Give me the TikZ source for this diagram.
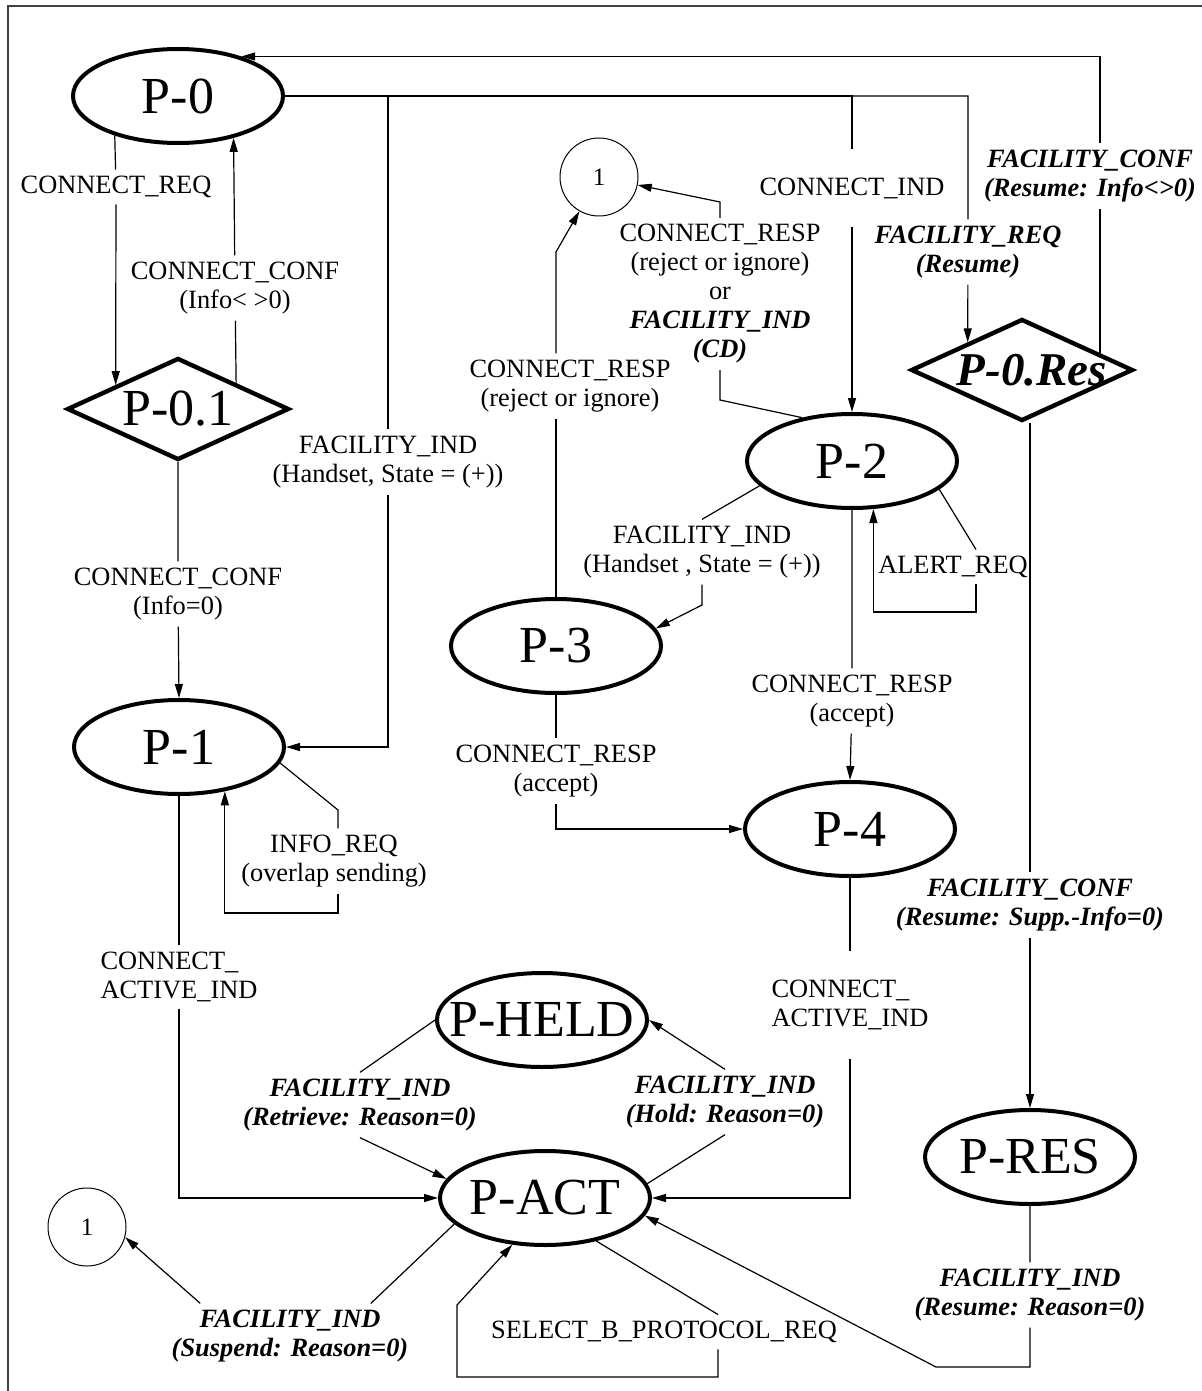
\documentclass[tikz,border=0pt]{standalone}
\usepackage{fontspec}
\setmainfont{Liberation Serif}
\usetikzlibrary{shapes.geometric,arrows.meta}
\tikzset{state/.style={draw,ellipse,line width=2pt,inner sep=0pt,minimum width=105pt,minimum height=47pt,font=\fontsize{26}{28}\selectfont}}
\tikzset{check/.style={draw,diamond,line width=2.2pt,inner sep=0pt,minimum width=111pt,minimum height=51pt,font=\fontsize{26}{28}\selectfont}}
\tikzset{jump/.style={draw,circle,line width=0.5pt,inner sep=0pt,minimum size=39pt,font=\fontsize{12.5}{14}\selectfont}}
\tikzset{msg/.style={align=center,inner sep=3pt,font=\fontsize{13.2}{14.5}\selectfont}}
\tikzset{fac/.style={msg,font=\fontsize{13.2}{14.5}\selectfont\bfseries\itshape}}
\newcommand{\sname}[1]{\makebox[0pt]{#1}}

\begin{document}
\begin{tikzpicture}[x=0.5pt,y=-0.5pt,line width=0.6pt,>={Triangle[length=7pt,width=4pt]}]
        \useasboundingbox (0,0) rectangle (1202,1391);
        \draw[line width=1pt,black!75] (8,1391) -- (8,6) -- (1202,6);
        \node[state] (p0) at (178,96) {\sname{P-0}};
        \node[check] (p01) at (178,409) {\sname{P-0.1}};
        \node[state] (p1) at (179,747) {\sname{P-1}};
        \node[state] (p2) at (852,461) {\sname{P-2}};
        \node[state] (p3) at (556,646) {\sname{P-3}};
        \node[state] (p4) at (850,829) {\sname{P-4}};
        \node[state] (pheld) at (542,1020) {\sname{P-HELD}};
        \node[state] (pact) at (545,1198) {\sname{P-ACT}};
        \node[state] (pres) at (1030,1157) {\sname{P-RES}};
        \node[check,font=\fontsize{23.5}{26}\selectfont\bfseries\itshape] (p0res) at (1022,370) {\sname{\hspace{10pt}P-0.Res}};
        \node[jump] (c1) at (599,177) {1};
        \node[jump] (c2) at (87,1227) {1};
        \node[msg] (req) at (116,187) {CONNECT\_REQ};
        \node[msg] (confne) at (235,288) {CONNECT\_CONF\\(Info< >0)};
        \node[msg] (confeq) at (178,594) {CONNECT\_CONF\\(Info=0)};
        \node[msg] (hset) at (388,462) {FACILITY\_IND\\(Handset, State = (+))};
        \node[msg,inner ysep=14pt] (ind) at (852,188) {CONNECT\_IND};
        \node[fac] (resreq) at (968,252) {FACILITY\_REQ\\(Resume)};
        \node[fac] (resconf) at (1090,176) {FACILITY\_CONF\\(Resume: Info<>0)};
        \node[msg] (rej) at (570,386) {CONNECT\_RESP\\(reject or ignore)};
        \node[msg] (rejcd) at (720,294) {CONNECT\_RESP\\(reject or ignore)\\or\\\textbf{\textit{FACILITY\_IND}}\\\textbf{\textit{(CD)}}};
        \node[msg] (hset2) at (702,552) {FACILITY\_IND\\(Handset , State = (+))};
        \node[msg] (alert) at (953,567) {ALERT\_REQ};
        \node[msg] (acc2) at (852,701) {CONNECT\_RESP\\(accept)};
        \node[msg] (acc3) at (556,771) {CONNECT\_RESP\\(accept)};
        \node[msg] (info) at (334,861) {INFO\_REQ\\(overlap sending)};
        \node[msg,align=left] (act1) at (179,977) {CONNECT\_\\ACTIVE\_IND};
        \node[msg,align=left,inner ysep=14pt] (act4) at (850,1005) {CONNECT\_\\ACTIVE\_IND};
        \node[fac] (resok) at (1030,905) {FACILITY\_CONF\\(Resume: Supp.-Info=0)};
        \node[fac] (retr) at (360,1105) {FACILITY\_IND\\(Retrieve: Reason=0)};
        \node[fac] (hold) at (725,1102) {FACILITY\_IND\\(Hold: Reason=0)};
        \node[fac] (susp) at (290,1336) {FACILITY\_IND\\(Suspend: Reason=0)};
        \node[msg] (bprot) at (664,1332) {SELECT\_B\_PROTOCOL\_REQ};
        \node[fac] (resind) at (1030,1295) {FACILITY\_IND\\(Resume: Reason=0)};
        \coordinate (rejup) at (556,252);
        \coordinate (cdlow) at (720,400);
        \coordinate (cdup) at (720,202);
        \coordinate (hsetdn) at (702,605);
        \coordinate (alertdn) at (976,612);
        \coordinate (infoup) at (338,810);
        \coordinate (infodn) at (338,913);
        \coordinate (selr) at (718,1377);
        \coordinate (sell) at (457,1305);
        \coordinate (resbend) at (936,1367);
            \path[draw,->] (p0.212.8) -- (req) -- (p01.159.1);
            \path[draw,->] (p01.24.5) -- (confne) -- (p0.323.9);
            \path[draw,->] (p01.south) -- (confeq) -- (p1.north);
            \path[draw,->] (p0.east) -| (hset) |- (p1.east);
            \path[draw,->] (p0.east) -| (ind) -- (p2.north);
            \path[draw,->] (p0.east) -| (resreq) -- (p0res.153.3);
            \path[draw] (p0res.12.4) -- (p0res.12.4 |- resconf.south);
            \path[draw,->] (p0res.12.4 |- resconf.north) |- (p0.32.2);
            \path[draw] (p2.195.8) -- (hset2.north);
            \path[draw,->] (hset2) -- (hsetdn) -- (p3.10);
            \path[draw] (p2.342.4) -- (alert.north -| alertdn);
            \path[draw,->] (alert.south -| alertdn) -- (alertdn) -| (p2.294.6);
            \path[draw,->] (p2.south) -- (acc2) -- (p4.north);
            \path[draw,->] (p3.south) -- (acc3) |- (p4.west);
            \path[draw] (p3.north) -- (p3.north |- rej.south);
            \path[draw,->] (p3.north |- rej.north) -- (rejup) -- (c1);
            \path[draw,->] (p2.139.1) -- (cdlow) -- (rejcd) -- (cdup) -- (c1);
            \path[draw] (p1.351.7) -- (infoup) -- (info.north -| infoup);
            \path[draw,->] (info.south -| infoup) -- (infodn) -| (p1.316.9);
            \path[draw,->] (p1.south) -- (act1) |- (pact.west);
            \path[draw,->] (p4.south) -- (act4) |- (pact.east);
            \path[draw] (pheld.west) -- (retr.north);
            \path[draw,->] (retr.south) -- (pact.169.4);
            \path[draw] (pact.8) -- (hold.south);
            \path[draw,->] (hold.north) -- (pheld.east);
            \path[draw] (pact.196) -- (susp.22);
            \path[draw,->] (susp.160) -- (c2.345);
            \path[draw] (pact.320) -- (bprot.north -| selr);
            \path[draw,->] (bprot.south -| selr) -- (selr) -| (sell) -- (pact.235.6);
            \path[draw,->] (p0res.south -| pres.north) -- (resok) -- (pres.north);
            \path[draw,->] (pres.south) -- (resind) |- (resbend) -- (pact.350);
\end{tikzpicture}
\end{document}
